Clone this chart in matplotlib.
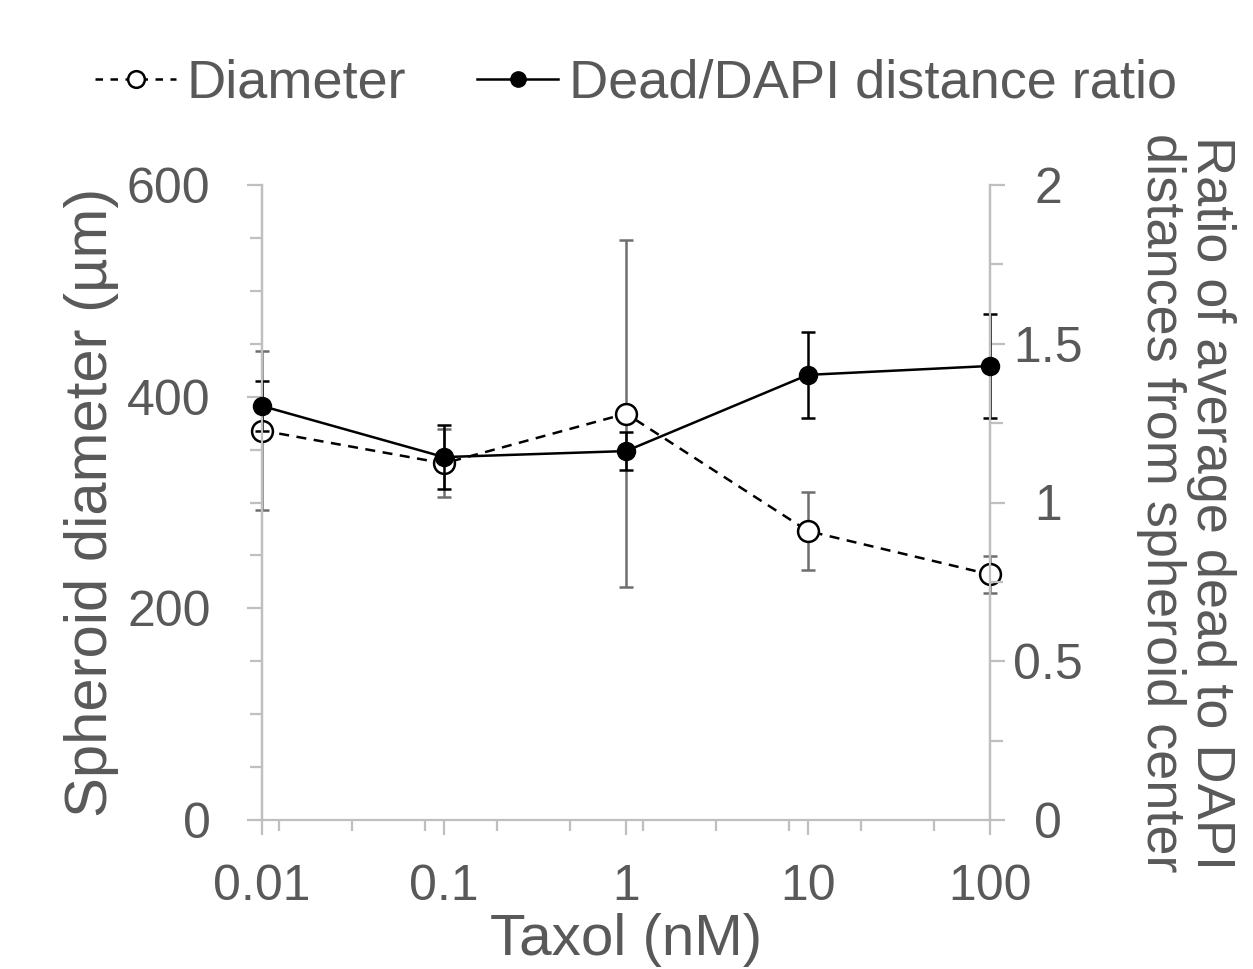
import numpy as np
import matplotlib
matplotlib.use("Agg")
import matplotlib.pyplot as plt
from matplotlib.lines import Line2D
from matplotlib.ticker import FixedLocator, NullFormatter, FixedFormatter

# ---- data ----
taxol = [0.01, 0.1, 1, 10, 100]
x_labels = ["0.01", "0.1", "1", "10", "100"]
diameter = [368, 337, 384, 273, 232]
diameter_err = [75, 32, 164, 37, 17.5]
ratio = [1.304, 1.143, 1.162, 1.402, 1.43]
ratio_err = [0.079, 0.10, 0.06, 0.135, 0.164]

TXT = "#595959"
SPINE = "#bfbfbf"
plt.rcParams['font.family'] = ['Liberation Sans', 'DejaVu Sans']

fig = plt.figure(figsize=(12.53, 9.69), dpi=100)
ax = fig.add_axes([262/1253, 1-820/969, (990-262)/1253, (820-185)/969])
ax2 = ax.twinx()

ax.set_xscale('log')
ax.set_xlim(0.01, 100)
ax.set_ylim(0, 600)
ax2.set_ylim(0, 2)

# diameter series (left axis)
ax.errorbar(taxol, diameter, yerr=diameter_err, fmt='none', ecolor='#6e6e6e',
            elinewidth=1.8, capsize=5, capthick=1.8, zorder=2, clip_on=False)
ax.plot(taxol, diameter, color='black', lw=1.8, ls=(0, (4, 3)), marker='o',
        ms=15, mfc='white', mec='black', mew=1.8, zorder=3, clip_on=False)

# ratio series (right axis)
ax2.errorbar(taxol, ratio, yerr=ratio_err, fmt='none', ecolor='black',
             elinewidth=1.8, capsize=5, capthick=1.8, zorder=2, clip_on=False)
ax2.plot(taxol, ratio, color='black', lw=1.8, marker='o', ms=13,
         mfc='black', mec='black', zorder=3, clip_on=False)

# spines
for a in (ax, ax2):
    for s in a.spines.values():
        s.set_color(SPINE)
        s.set_linewidth(1.6)
    a.spines['top'].set_visible(False)
ax2.spines['bottom'].set_visible(False)

# x ticks
ax.xaxis.set_major_locator(FixedLocator(taxol))
ax.xaxis.set_major_formatter(FixedFormatter(x_labels))
minor_exp = -2 + 0.093 + 0.4 * np.arange(10)
ax.xaxis.set_minor_locator(FixedLocator(10.0 ** minor_exp))
ax.xaxis.set_minor_formatter(NullFormatter())
ax.tick_params(axis='x', which='major', direction='out', length=11, width=1.6,
               color=SPINE, labelsize=36, labelcolor=TXT, pad=21)
ax.tick_params(axis='x', which='minor', direction='out', length=8, width=1.6,
               color=SPINE)

# left y ticks
ax.set_yticks([0, 200, 400, 600])
ax.set_yticks(np.arange(0, 601, 50), minor=True)
ax.tick_params(axis='y', which='major', direction='out', length=11, width=1.6,
               color=SPINE, labelsize=36, labelcolor=TXT, pad=26)
ax.tick_params(axis='y', which='minor', direction='out', length=9, width=1.6,
               color=SPINE)

# right y ticks
ax2.set_yticks([0, 0.5, 1, 1.5, 2])
ax2.set_yticklabels(["0", "0.5", "1", "1.5", "2"])
ax2.set_yticks(np.arange(0, 2.01, 0.25), minor=True)
ax2.tick_params(axis='y', which='major', direction='out', length=11, width=1.6,
                color=SPINE, labelsize=36, labelcolor=TXT, pad=31)
ax2.tick_params(axis='y', which='minor', direction='out', length=9, width=1.6,
                color=SPINE)
for lab in ax2.get_yticklabels():
    lab.set_horizontalalignment('center')

ax.set_xlabel("Taxol (nM)", fontsize=42, color=TXT, labelpad=2)
ax.set_ylabel("Spheroid diameter (µm)", fontsize=43, color=TXT, labelpad=6)
ax2.set_ylabel("Ratio of average dead to DAPI\ndistances from spheroid center",
               fontsize=39, color=TXT, rotation=270, va='bottom',
               labelpad=38, linespacing=1.0)

# legend
h1 = Line2D([], [], color='black', lw=1.8, ls=(0, (3, 3)), marker='o', ms=12,
            mfc='white', mec='black', mew=1.8)
h2 = Line2D([], [], color='black', lw=1.8, marker='o', ms=11, mfc='black', mec='black')
fig.legend([h1, h2], ["Diameter", "Dead/DAPI distance ratio"], ncol=2,
           loc='center', bbox_to_anchor=(636/1253, 1-84/969), frameon=False,
           fontsize=39, labelcolor=TXT, handlelength=1.5, handletextpad=0.2,
           columnspacing=1.3, borderpad=0, borderaxespad=0)

fig.savefig("out.png", dpi=100)
